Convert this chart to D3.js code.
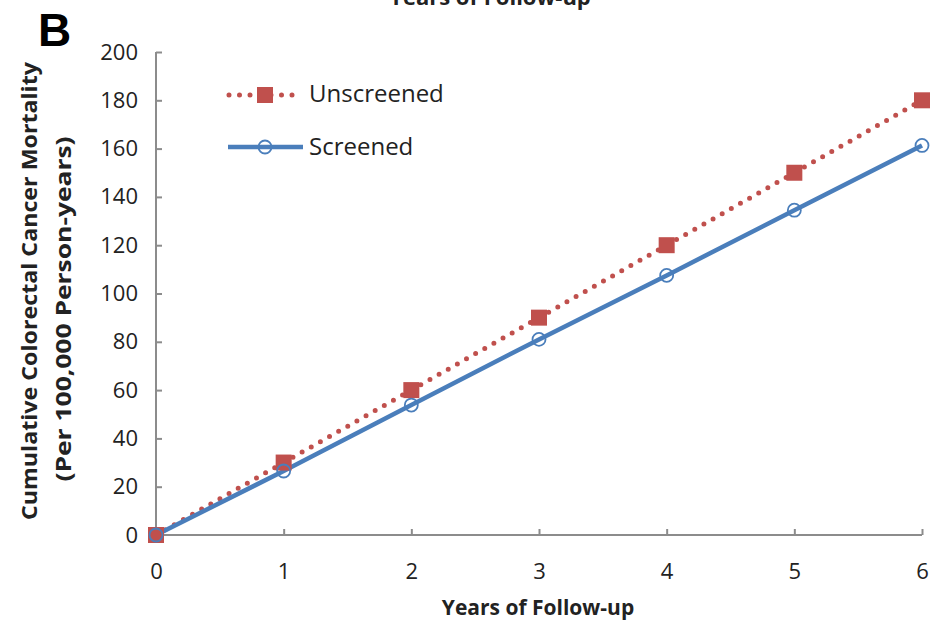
<!DOCTYPE html>
<html>
<head>
<meta charset="utf-8">
<script src="https://cdn.jsdelivr.net/npm/d3@7"></script>
<style>
  body { margin: 0; background: #fff; }
  svg { display: block; font-family: 'Open Sans', 'Liberation Sans', sans-serif; }
</style>
</head>
<body>
<div id="chart"></div>
<script>
const years = [0, 1, 2, 3, 4, 5, 6];
const unscreened = [0, 30, 60, 90, 120, 150, 180];
const screened = [0, 26.5, 53.8, 81, 107.5, 134.5, 161.3];
const yTicks = [0, 20, 40, 60, 80, 100, 120, 140, 160, 180, 200];

const W = 930, H = 624;
const margin = { top: 52, right: 8, bottom: 89, left: 156 };
const width = W - margin.left - margin.right;
const height = H - margin.top - margin.bottom;

const svg = d3.select('#chart').append('svg').attr('width', W).attr('height', H);
const g = svg.append('g').attr('transform', `translate(${margin.left},${margin.top})`);

const x = d3.scaleLinear().domain([0, 6]).range([0, width]);
const y = d3.scaleLinear().domain([0, 200]).range([height, 0]);

const axisColor = '#8c8c8c';
const font = "'Open Sans', 'Liberation Sans', sans-serif";

// axes, ticks point inward like the Excel original
g.append('g').attr('transform', `translate(0,${height})`)
  .call(d3.axisBottom(x).tickValues(years).tickSize(-6).tickPadding(28).tickFormat(d3.format('d')))
  .attr('font-family', font)
  .call(a => a.selectAll('line, path').attr('stroke', axisColor).attr('stroke-width', 2))
  .call(a => a.select('.domain').attr('d', `M0,0H${width}`))
  .call(a => a.selectAll('.tick text').attr('fill', '#222').attr('font-size', '22px'));

g.append('g')
  .call(d3.axisLeft(y).tickValues(yTicks).tickSize(-6).tickPadding(18))
  .attr('font-family', font)
  .call(a => a.selectAll('line, path').attr('stroke', axisColor).attr('stroke-width', 2))
  .call(a => a.select('.domain').attr('d', `M0,${height}V0`))
  .call(a => a.selectAll('.tick text').attr('fill', '#222').attr('font-size', '22px'));

const red = '#c0504d', blue = '#4a7ebb';
const line = d3.line().x((d, i) => x(years[i])).y(d => y(d));

g.append('path').datum(unscreened).attr('d', line)
  .attr('fill', 'none').attr('stroke', red).attr('stroke-width', 5)
  .attr('stroke-linecap', 'round').attr('stroke-dasharray', '0,10.5');
g.append('path').datum(screened).attr('d', line)
  .attr('fill', 'none').attr('stroke', blue).attr('stroke-width', 4.5);

g.selectAll('.sq').data(unscreened).join('rect')
  .attr('x', (d, i) => x(years[i]) - 8).attr('y', d => y(d) - 8)
  .attr('width', 16).attr('height', 16).attr('fill', red);
g.selectAll('.ci').data(screened).join('circle')
  .attr('cx', (d, i) => x(years[i])).attr('cy', d => y(d)).attr('r', 6.5)
  .attr('fill', 'none').attr('stroke', blue).attr('stroke-width', 1.8);

// legend
const leg = svg.append('g');
leg.append('line').attr('x1', 229).attr('x2', 298).attr('y1', 95).attr('y2', 95)
  .attr('stroke', red).attr('stroke-width', 5).attr('stroke-linecap', 'round').attr('stroke-dasharray', '0,10.5');
leg.append('rect').attr('x', 257).attr('y', 87).attr('width', 16).attr('height', 16).attr('fill', red);
leg.append('text').attr('x', 309).attr('y', 94).attr('dy', '0.35em').attr('font-size', '24px').attr('fill', '#222').text('Unscreened');
leg.append('line').attr('x1', 228).attr('x2', 303).attr('y1', 147).attr('y2', 147)
  .attr('stroke', blue).attr('stroke-width', 4.5);
leg.append('circle').attr('cx', 265).attr('cy', 147).attr('r', 6.5).attr('fill', 'none').attr('stroke', blue).attr('stroke-width', 1.8);
leg.append('text').attr('x', 309).attr('y', 147).attr('dy', '0.35em').attr('font-size', '24px').attr('fill', '#222').text('Screened');

// titles
svg.append('text').attr('x', 538).attr('y', 615).attr('text-anchor', 'middle')
  .attr('font-size', '21px').attr('font-weight', 'bold').attr('fill', '#222').text('Years of Follow-up');
// the top one is cut off by the page edge in the original too
svg.append('text').attr('x', 490).attr('y', 5).attr('text-anchor', 'middle')
  .attr('font-size', '22px').attr('font-weight', 'bold').attr('fill', '#222').text('Years of Follow-up');
svg.append('text').attr('transform', 'translate(37,291) rotate(-90)').attr('text-anchor', 'middle')
  .attr('font-size', '22px').attr('font-weight', 'bold').attr('fill', '#222')
  .attr('textLength', 458).attr('lengthAdjust', 'spacingAndGlyphs')
  .text('Cumulative Colorectal Cancer Mortality');
svg.append('text').attr('transform', 'translate(71,309) rotate(-90)').attr('text-anchor', 'middle')
  .attr('font-size', '22px').attr('font-weight', 'bold').attr('fill', '#222')
  .attr('textLength', 345).attr('lengthAdjust', 'spacingAndGlyphs')
  .text('(Per 100,000 Person-years)');
svg.append('text').attr('x', 38).attr('y', 46)
  .attr('font-size', '46px').attr('font-weight', 'bold').attr('fill', '#000')
  .attr('font-family', 'Liberation Sans, Arial, sans-serif').text('B');
</script>
</body>
</html>
